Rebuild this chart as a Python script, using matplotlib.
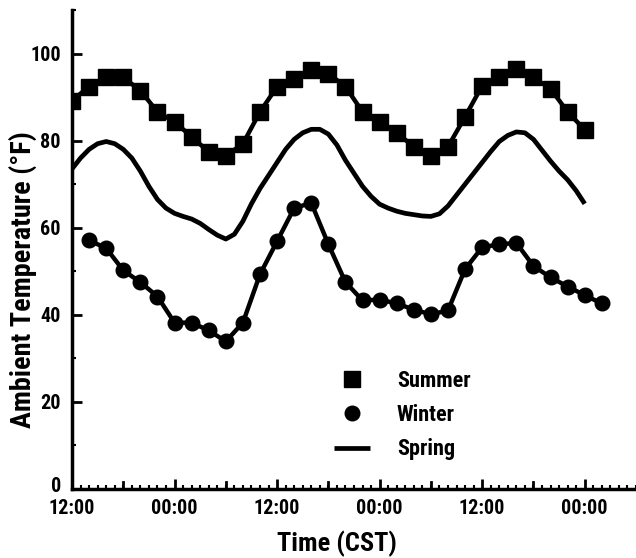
import matplotlib
matplotlib.use("Agg")
import matplotlib.pyplot as plt
import matplotlib.transforms as mtransforms
from matplotlib import font_manager
from matplotlib.font_manager import FontProperties
from matplotlib.ticker import MultipleLocator, FixedLocator, FixedFormatter

# find a bold condensed / narrow font file if available
cand = None
files = [f.fname for f in font_manager.fontManager.ttflist]
for key in ["LiberationSansNarrow-Bold.", "RobotoCondensed-Bold", "Roboto_Condensed-Bold",
            "OpenSans_Condensed-Bold", "OpenSans-CondensedBold", "DejaVuSansCondensed-Bold."]:
    for fn in files:
        if key in fn.split("/")[-1]:
            cand = fn
            break
    if cand:
        break

def fp(size):
    if cand:
        return FontProperties(fname=cand, size=size)
    return FontProperties(family="Liberation Sans", weight="bold", size=size)

# Hours since first 12:00
summer_hours = list(range(0, 61, 2))
summer_temp = [89.2, 92.4, 94.5, 94.5, 91.5, 86.6, 84.3, 80.9, 77.4, 76.5, 79.3,
               86.6, 92.4, 94.2, 96.3, 95.4, 92.4, 86.6, 84.3, 81.8, 78.6, 76.5,
               78.6, 85.5, 92.6, 94.5, 96.5, 94.5, 91.9, 86.6, 82.5]

winter_hours = list(range(2, 63, 2))
winter_temp = [57.1, 55.3, 50.2, 47.5, 44.2, 38.2, 38.2, 36.4, 33.9, 38.2, 49.3,
               56.9, 64.5, 65.7, 56.2, 47.5, 43.3, 43.5, 42.6, 41.2, 40.1, 41.0,
               50.5, 55.5, 56.2, 56.5, 51.2, 48.6, 46.5, 44.5, 42.6]

spring_hours = list(range(0, 61))
spring_temp = [73.5, 76, 78, 79.3, 79.8, 79.3, 78, 76, 73, 69.5,
               66.5, 64.5, 63.3, 62.6, 62, 61, 59.6, 58.3, 57.4, 58.5,
               61.5, 65.5, 69, 72, 75, 78, 80.3, 81.8, 82.6, 82.6,
               81.5, 79, 75.5, 72.5, 69.5, 67.2, 65.4, 64.5, 63.8, 63.3,
               63, 62.7, 62.6, 63.2, 65, 67.5, 70, 72.5, 75, 77.5,
               79.8, 81.2, 82, 81.8, 80.3, 77.8, 75.3, 73, 71, 68.5, 65.5]

tick_hours = [0, 12, 24, 36, 48, 60]
tick_labels = ["12:00", "00:00", "12:00", "00:00", "12:00", "00:00"]

fig = plt.figure(figsize=(6.36, 5.58), dpi=100)
ax = fig.add_axes([72/636, 69/558, 1 - 72/636, (489-10)/558])

ax.plot(summer_hours, summer_temp, color="black", lw=3.2, marker="s", ms=11,
        label="Summer", zorder=3)
ax.plot(winter_hours, winter_temp, color="black", lw=3.2, marker="o", ms=10.5,
        label="Winter", zorder=3)
ax.plot(spring_hours, spring_temp, color="black", lw=3.4, label="Spring",
        solid_capstyle="butt", zorder=2)

ax.set_xlim(0, 66)
ax.set_ylim(0, 110)
for s in ["top", "right"]:
    ax.spines[s].set_visible(False)
for s in ["left", "bottom"]:
    ax.spines[s].set_linewidth(2.5)

ax.xaxis.set_major_locator(FixedLocator(tick_hours))
ax.xaxis.set_major_formatter(FixedFormatter(tick_labels))
ax.xaxis.set_minor_locator(MultipleLocator(1))
ax.yaxis.set_major_locator(MultipleLocator(20))
ax.yaxis.set_minor_locator(MultipleLocator(10))

ax.tick_params(axis="x", which="major", direction="in", length=7, width=2, pad=7)
ax.tick_params(axis="x", which="minor", direction="in", length=3, width=1.5)
ax.tick_params(axis="y", which="major", direction="in", length=7, width=2, pad=8)
ax.tick_params(axis="y", which="minor", direction="in", length=3, width=1.5)
for lab in ax.get_xticklabels() + ax.get_yticklabels():
    lab.set_fontproperties(fp(14.5))

# lift the "0" label slightly, as in the reference
fig.canvas.draw()
for lab in ax.get_yticklabels():
    if lab.get_text() == "0":
        lab.set_transform(lab.get_transform() + mtransforms.ScaledTranslation(0, 5/100, fig.dpi_scale_trans))

# extra 6-hour major-length ticks without labels
for h in range(6, 66, 12):
    ax.plot([h, h], [0, 1.6], color="black", lw=2, clip_on=False, zorder=4)

ax.set_xlabel("Time (CST)", fontproperties=fp(19))
ax.xaxis.set_label_coords(0.47, -0.088)
ax.set_ylabel("Ambient Temperature (°F)", fontproperties=fp(20.3))
ax.yaxis.set_label_coords(-0.062, 0.437)

leg = ax.legend(loc="lower left", bbox_to_anchor=(0.429, 0.018), frameon=False,
                prop=fp(16), handlelength=1.6, labelspacing=0.55, handletextpad=1.23,
                borderpad=0.4)
for h in leg.legend_handles[:2]:
    h.set_linestyle("none")

fig.savefig("out.png", dpi=100)
